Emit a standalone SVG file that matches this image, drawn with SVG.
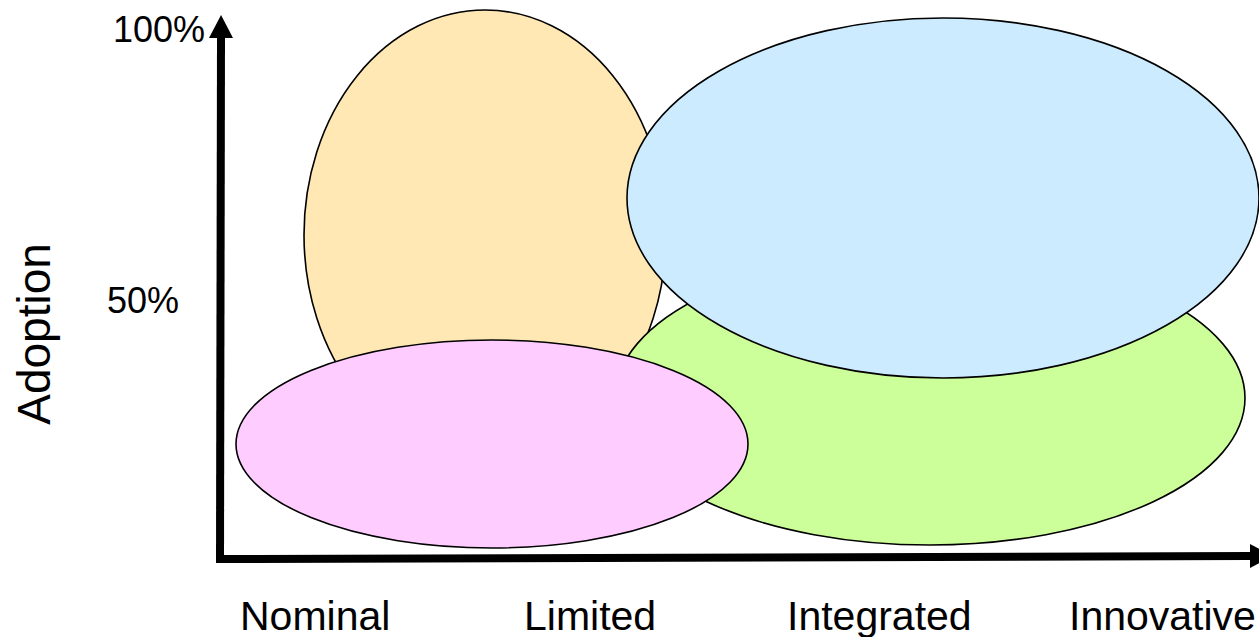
<svg xmlns="http://www.w3.org/2000/svg" width="1259" height="637" viewBox="0 0 1259 637">
  <style>
    .bubble { stroke: #000; stroke-width: 1.6; }
    .axis { stroke: #000; stroke-width: 8; fill: none; }
    .lbl { font-family: "Liberation Sans", Arial, sans-serif; fill: #000; }
  </style>
  <defs>
    <marker id="arrow" viewBox="0 0 23 24" refX="0" refY="12" markerWidth="23" markerHeight="24" markerUnits="userSpaceOnUse" orient="auto">
      <path d="M0,0 L23,12 L0,24 z" fill="#000"/>
    </marker>
  </defs>
  <rect width="1259" height="637" fill="#fff"/>

  <g id="nominal-bubble">
    <ellipse class="bubble" cx="485" cy="235" rx="181" ry="225" fill="#FFE8B3"/>
  </g>
  <g id="integrated-bubble">
    <ellipse class="bubble" cx="930" cy="398" rx="315" ry="147" fill="#CCFF99"/>
  </g>
  <g id="innovative-bubble">
    <ellipse class="bubble" cx="943" cy="198" rx="316" ry="180" fill="#CCEBFF"/>
  </g>
  <g id="limited-bubble">
    <ellipse class="bubble" cx="492" cy="444" rx="256" ry="104" fill="#FFCCFF"/>
  </g>

  <g id="connectors">
    <line class="axis" x1="220" y1="563" x2="221" y2="38" marker-end="url(#arrow)"/>
    <line class="axis" x1="216" y1="559" x2="1250" y2="556" marker-end="url(#arrow)"/>
  </g>

  <g id="y-labels">
    <text class="lbl" x="113" y="42" font-size="36">100%</text>
    <text class="lbl" x="107" y="313" font-size="36">50%</text>
    <text class="lbl" font-size="46" text-anchor="middle" transform="translate(50,334) rotate(-90)">Adoption</text>
  </g>
  <g id="x-labels">
    <text class="lbl" x="240" y="630" font-size="41">Nominal</text>
    <text class="lbl" x="524" y="630" font-size="41">Limited</text>
    <text class="lbl" x="787" y="630" font-size="41">Integrated</text>
    <text class="lbl" x="1069" y="630" font-size="41">Innovative</text>
  </g>
</svg>
